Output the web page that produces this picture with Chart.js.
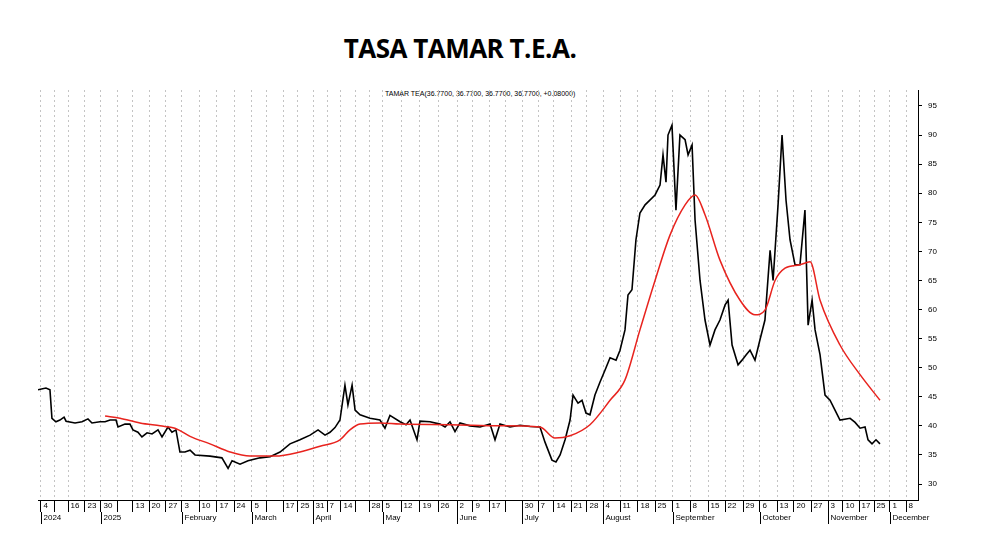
<!DOCTYPE html>
<html lang="es">
<head>
<meta charset="UTF-8">
<title>TASA TAMAR T.E.A.</title>
<style>
  body { margin: 0; background: #fff; }
  #wrap { position: relative; width: 981px; height: 549px; }
  #title { position: absolute; top: 30px; left: 0; width: 920px; text-align: center; font: bold 26px "Open Sans", "Liberation Sans", sans-serif; letter-spacing: -0.5px; }
  #legend { position: absolute; top: 90px; left: 385px; font: 7px "Liberation Sans", Arial, sans-serif; color: #000; }
  canvas { position: absolute; top: 0; left: 0; }
</style>
<script src="https://cdn.jsdelivr.net/npm/chart.js"></script>
</head>
<body>
<div id="wrap">
  <div id="title">TASA TAMAR T.E.A.</div>
  <div id="legend">TAMAR TEA(36.7700, 36.7700, 36.7700, 36.7700, +0.08000)</div>
  <canvas id="chart" width="981" height="549"></canvas>
</div>
<script>
// x unit: trading-week position from first tick (Dec 4 2024)
const tamarX = [-0.12,0.36,0.60,0.72,0.96,1.20,1.45,1.57,2.11,2.53,2.89,3.13,3.61,3.92,4.22,4.58,4.70,5.12,5.42,5.60,5.90,6.14,6.45,6.75,7.11,7.35,7.71,7.95,8.19,8.43,8.73,9.04,9.34,10.24,10.96,11.33,11.57,12.05,12.53,13.25,13.86,14.46,15.06,15.66,16.27,16.75,17.17,17.47,17.77,18.07,18.37,18.55,18.80,18.98,19.28,19.88,20.48,20.78,21.08,21.69,22.05,22.29,22.71,22.89,23.49,24.10,24.40,24.70,25.00,25.30,25.90,26.51,27.11,27.41,27.71,28.31,28.92,29.52,30.12,30.42,30.84,31.08,31.33,31.63,31.93,32.11,32.41,32.65,32.89,33.13,33.43,33.73,34.04,34.34,34.70,34.94,35.24,35.42,35.66,35.90,36.14,36.45,37.05,37.35,37.53,37.71,37.83,38.07,38.31,38.55,38.86,39.04,39.28,39.46,39.76,40.06,40.36,40.66,40.96,41.27,41.45,41.69,42.05,42.29,42.53,42.77,43.07,43.37,43.67,43.98,44.16,44.46,44.70,44.94,45.18,45.48,45.78,46.08,46.27,46.51,46.69,46.99,47.29,47.59,47.89,48.19,48.80,49.10,49.40,49.70,49.88,50.12,50.36,50.60];
const tamarY = [46.2,46.5,46.2,41.3,40.7,41.0,41.5,40.8,40.5,40.7,41.2,40.5,40.7,40.7,41.0,41.0,39.8,40.3,40.3,39.3,38.9,38.1,38.8,38.6,39.3,38.1,39.8,38.9,39.3,35.5,35.5,35.8,35.0,34.8,34.5,32.7,34.0,33.4,34.0,34.5,34.7,35.5,36.9,37.6,38.4,39.3,38.4,38.9,39.7,41.0,47.0,43.6,47.0,42.7,41.9,41.3,41.0,39.6,41.8,40.7,40.2,41.0,37.6,40.8,40.7,40.3,39.8,40.7,39.0,40.5,40.0,39.8,40.3,37.6,40.3,39.8,40.1,39.9,39.8,37.2,34.1,33.8,35.0,37.6,41.0,45.3,43.9,44.4,42.2,41.9,45.3,47.5,49.6,51.7,51.3,53.0,56.5,62.5,63.4,72.0,76.6,78.0,79.7,81.4,86.6,81.9,90.0,91.7,77.1,90.0,89.2,86.6,88.3,75.4,65.0,58.2,53.9,56.5,58.2,60.8,61.6,53.9,50.5,51.3,52.2,53.0,51.3,54.8,58.2,70.2,65.0,78.0,90.0,78.8,72.0,67.7,67.7,77.1,57.3,61.6,56.5,52.2,45.3,44.4,42.7,41.0,41.3,40.6,39.6,39.8,37.6,36.9,37.6,36.9];
const maX = [3.92,4.82,6.02,7.23,8.13,9.04,10.24,11.45,12.65,14.16,15.66,16.87,18.07,18.67,19.28,20.48,21.69,24.70,27.71,30.12,31.02,31.93,33.13,34.34,35.24,36.14,37.05,37.95,38.86,39.46,40.06,40.96,42.17,43.07,43.67,44.28,44.88,45.78,46.39,46.99,48.19,49.40,50.60];
const maY = [41.7,41.3,40.5,40.0,39.6,38.2,36.9,35.5,34.8,34.8,35.5,36.5,37.6,39.3,40.3,40.5,40.3,40.2,40.0,39.8,37.9,38.3,40.2,44.4,47.9,56.5,65.0,72.8,78.0,79.7,76.3,68.5,61.6,59.1,59.9,65.0,67.1,67.7,68.2,61.6,53.9,48.8,44.4];

const tickPos = [0.06,0.90,1.69,2.71,3.67,4.64,5.60,6.57,7.59,8.55,9.58,10.66,11.69,12.77,13.67,14.64,15.54,16.45,17.29,18.13,18.98,19.82,20.66,21.75,22.89,23.98,25.12,26.08,27.05,28.07,29.04,30.00,30.96,31.99,32.95,33.92,34.94,36.02,37.05,38.13,39.16,40.24,41.27,42.35,43.37,44.40,45.42,46.45,47.47,48.37,49.34,50.24,51.20,52.17];
const tickLabels = ['4','','16','23','30','','13','20','27','3','10','17','24','5','','17','25','31','7','14','','28','5','12','19','26','2','9','17','','30','7','14','21','28','4','11','18','25','1','8','15','22','29','6','13','20','27','3','10','17','25','1','8'];
const monthLabels = {0:'2024',4:'2025',9:'February',13:'March',17:'April',22:'May',26:'June',30:'July',35:'August',39:'September',44:'October',48:'November',52:'December'};
const yTicks = [30,35,40,45,50,55,60,65,70,75,80,85,90,95];

const pts = (xs, ys) => xs.map((x, i) => ({ x: x, y: ys[i] }));

// left-aligned date labels under the x axis, month names on a second row
const dateLabels = {
  id: 'dateLabels',
  afterDraw(chart) {
    const { ctx, scales: { x } } = chart;
    const base = x.top;
    ctx.save();
    ctx.font = '8px "Liberation Sans", Arial, sans-serif';
    ctx.fillStyle = '#000';
    ctx.textAlign = 'left';
    ctx.textBaseline = 'top';
    ctx.strokeStyle = '#000';
    ctx.lineWidth = 1;
    tickPos.forEach((v, i) => {
      const px = Math.round(x.getPixelForValue(v)) + 0.5;
      ctx.fillText(tickLabels[i], px + 2, base + 2);
      if (monthLabels[i]) {
        ctx.beginPath();
        ctx.moveTo(px, base + 12);
        ctx.lineTo(px, base + 24);
        ctx.stroke();
        ctx.fillText(monthLabels[i], px + 2, base + 14);
      }
    });
    ctx.restore();
  }
};

new Chart(document.getElementById('chart'), {
  type: 'line',
  data: {
    datasets: [
      { data: pts(maX, maY), borderColor: '#e8231e', borderWidth: 1.5, pointRadius: 0, tension: 0.4, cubicInterpolationMode: 'monotone' },
      { data: pts(tamarX, tamarY), borderColor: '#000', borderWidth: 1.6, pointRadius: 0, tension: 0 }
    ]
  },
  plugins: [dateLabels],
  options: {
    responsive: false,
    animation: false,
    layout: { padding: { top: 90, left: 38 } },
    plugins: { legend: { display: false }, tooltip: { enabled: false } },
    scales: {
      x: {
        type: 'linear', min: -0.12, max: 52.89,
        afterBuildTicks: s => { s.ticks = tickPos.map(v => ({ value: v })); },
        afterFit: s => { s.height = 49; },
        ticks: { display: false },
        grid: { color: '#c4c4c4', tickLength: 12, tickColor: '#000', tickBorderDash: [], tickWidth: 1 },
        border: { display: true, color: '#000', dash: [2, 3] }
      },
      y: {
        position: 'right', min: 27.25, max: 97.75,
        afterBuildTicks: s => { s.ticks = yTicks.map(v => ({ value: v })); },
        afterFit: s => { s.width = 63; },
        ticks: { font: { family: 'Liberation Sans', size: 8 }, color: '#000', padding: 6 },
        grid: { drawOnChartArea: false, tickLength: 4, tickColor: '#000' },
        border: { display: true, color: '#000' }
      }
    }
  }
});
</script>
</body>
</html>
